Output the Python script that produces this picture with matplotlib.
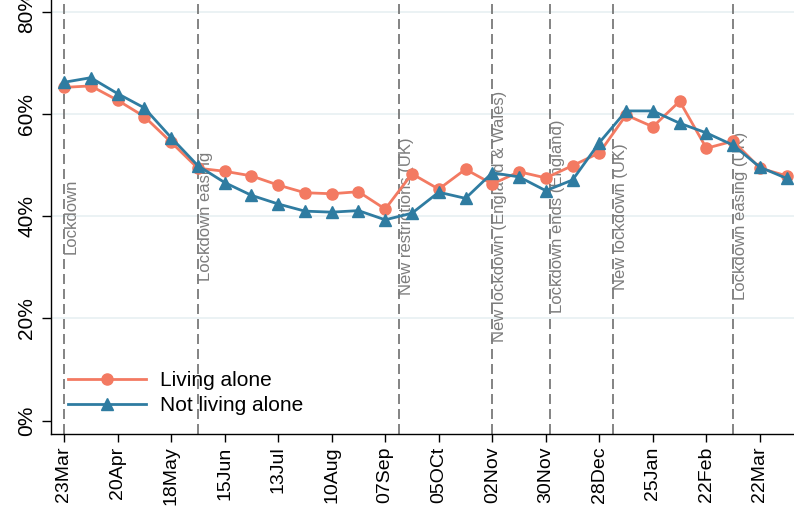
import matplotlib
matplotlib.use("Agg")
import matplotlib.pyplot as plt
import pandas as pd

plt.rcParams["font.family"] = ["Liberation Sans", "DejaVu Sans"]

# biweekly survey waves
wave_dates = [
    "2020-03-23", "2020-04-06", "2020-04-20", "2020-05-04", "2020-05-18",
    "2020-06-01", "2020-06-15", "2020-06-29", "2020-07-13", "2020-07-27",
    "2020-08-10", "2020-08-24", "2020-09-07", "2020-09-21", "2020-10-05",
    "2020-10-19", "2020-11-02", "2020-11-16", "2020-11-30", "2020-12-14",
    "2020-12-28", "2021-01-11", "2021-01-25", "2021-02-08", "2021-02-22",
    "2021-03-08", "2021-03-22", "2021-04-05",
]
living_alone = [
    65.2, 65.5, 62.7, 59.5, 54.5, 49.4, 48.8, 47.9, 46.1, 44.6,
    44.4, 44.8, 41.4, 48.3, 45.3, 49.2, 46.3, 48.7, 47.5, 49.9,
    52.4, 59.8, 57.5, 62.5, 53.3, 54.7, 49.4, 47.9,
]
not_living_alone = [
    66.2, 67.1, 64.0, 61.2, 55.4, 49.9, 46.6, 44.1, 42.4, 41.0,
    40.8, 41.1, 39.3, 40.6, 44.7, 43.5, 48.5, 47.7, 45.0, 47.1,
    54.4, 60.6, 60.6, 58.2, 56.3, 53.9, 49.6, 47.4,
]

event_dates = [
    "2020-03-23", "2020-06-01", "2020-09-14", "2020-11-02",
    "2020-12-02", "2021-01-04", "2021-03-08",
]
event_labels = [
    "Lockdown", "Lockdown easing", "New restrictions (UK)",
    "New lockdown (England & Wales)", "Lockdown ends (England)",
    "New lockdown (UK)", "Lockdown easing (UK)",
]

tick_dates = [
    "2020-03-23", "2020-04-20", "2020-05-18", "2020-06-15", "2020-07-13",
    "2020-08-10", "2020-09-07", "2020-10-05", "2020-11-02", "2020-11-30",
    "2020-12-28", "2021-01-25", "2021-02-22", "2021-03-22",
]
tick_labels = [
    "23Mar", "20Apr", "18May", "15Jun", "13Jul", "10Aug", "07Sep",
    "05OCt", "02Nov", "30Nov", "28Dec", "25Jan", "22Feb", "22Mar",
]
y_ticks = [0, 20, 40, 60, 80]

ORANGE = "#f37a62"
BLUE = "#2f7ca1"
GREY = "#6e6e6e"

x = pd.to_datetime(wave_dates)

fig = plt.figure(figsize=(7.94, 5.14), dpi=100)
ax = fig.add_axes([0.0642, 0.1562, 0.9358, 0.8438])

# light horizontal grid
for v in y_ticks[1:]:
    ax.axhline(v, color="#e8f0f2", lw=1.2, zorder=0)

# policy events
for d, lab in zip(pd.to_datetime(event_dates), event_labels):
    ax.axvline(d, color=GREY, lw=1.2, dashes=(6, 3), zorder=1)
    ax.text(d, 40, lab, rotation=90, ha="left", va="center",
            fontsize=12, color="#7c7c7c", zorder=2)

ax.plot(x, living_alone, color=ORANGE, lw=2, marker="o", ms=8,
        label="Living alone", zorder=3)
ax.plot(x, not_living_alone, color=BLUE, lw=2, marker="^", ms=8,
        label="Not living alone", zorder=4)

start = pd.Timestamp("2020-03-23")
ax.set_xlim(start - pd.Timedelta(days=6.8), start + pd.Timedelta(days=381.8))
ax.set_ylim(-2.54, 82.3)

ax.set_xticks(pd.to_datetime(tick_dates))
ax.set_xticklabels(tick_labels, rotation=90, fontsize=14)
ax.set_yticks(y_ticks)
ax.set_yticklabels([f"{v}%" for v in y_ticks], rotation=90, va="center",
                   fontsize=15)
ax.tick_params(axis="x", direction="out", length=5.5, width=1, pad=3.6)
ax.tick_params(axis="y", direction="out", length=6.5, width=1, pad=4)

for side in ("top", "right"):
    ax.spines[side].set_visible(False)
for side in ("left", "bottom"):
    ax.spines[side].set_linewidth(1)

ax.legend(loc="center left", bbox_to_anchor=(68 / 794, 1 - 393 / 514),
          bbox_transform=fig.transFigure, frameon=False, fontsize=15,
          handlelength=3.75, handletextpad=0.67, labelspacing=0.27,
          borderpad=0, borderaxespad=0)

fig.savefig("out.png", dpi=100)
